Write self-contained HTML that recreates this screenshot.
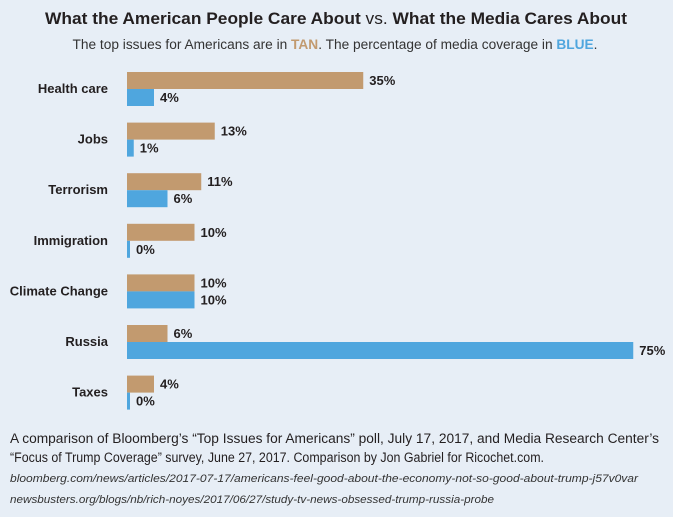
<!DOCTYPE html>
<html><head><meta charset="utf-8"><style>
html,body{margin:0;padding:0;background:#e7eef6;}
svg{display:block;font-family:"Liberation Sans",sans-serif;}
</style></head><body>
<svg id="chart" width="673" height="517" viewBox="0 0 673 517">
<rect width="673" height="517" fill="#e7eef6"/>
<text x="336" y="24" text-anchor="middle" font-size="17" font-weight="bold" fill="#231f20" textLength="582" lengthAdjust="spacingAndGlyphs">What the American People Care About <tspan font-weight="normal">vs.</tspan> What the Media Cares About</text>
<text x="335" y="49" text-anchor="middle" font-size="13.5" fill="#333" textLength="525" lengthAdjust="spacingAndGlyphs">The top issues for Americans are in <tspan fill="#c29a6f" font-weight="bold">TAN</tspan>. The percentage of media coverage in <tspan fill="#4fa6de" font-weight="bold">BLUE</tspan>.</text>
<g id="bars"></g>
<text x="10" y="443" font-size="13.5" fill="#231f20" textLength="649" lengthAdjust="spacingAndGlyphs">A comparison of Bloomberg’s “Top Issues for Americans” poll, July 17, 2017, and Media Research Center’s</text>
<text x="10" y="462" font-size="13.5" fill="#231f20" textLength="534" lengthAdjust="spacingAndGlyphs">“Focus of Trump Coverage” survey, June 27, 2017. Comparison by Jon Gabriel for Ricochet.com.</text>
<text x="10" y="482" font-size="11" font-style="italic" fill="#333" textLength="628" lengthAdjust="spacingAndGlyphs">bloomberg.com/news/articles/2017-07-17/americans-feel-good-about-the-economy-not-so-good-about-trump-j57v0var</text>
<text x="10" y="503" font-size="11" font-style="italic" fill="#333" textLength="484" lengthAdjust="spacingAndGlyphs">newsbusters.org/blogs/nb/rich-noyes/2017/06/27/study-tv-news-obsessed-trump-russia-probe</text>
</svg>
<script>
const categories = ["Health care","Jobs","Terrorism","Immigration","Climate Change","Russia","Taxes"];
const publicValues = [35,13,11,10,10,6,4];
const mediaValues = [4,1,6,0,10,75,0];
const NS="http://www.w3.org/2000/svg";
const g=document.getElementById('bars');
const x0=127, pxPer=6.75, top0=72, step=50.6, bh=17;
function xs(v){return Math.max(3, v*pxPer);}
function mk(tag,attrs){const e=document.createElementNS(NS,tag);for(const k in attrs)e.setAttribute(k,attrs[k]);g.appendChild(e);return e;}
categories.forEach((c,i)=>{
  const y=top0+i*step;
  const lab=mk('text',{x:108,y:y+bh+4,'text-anchor':'end','font-size':13,'font-weight':'bold',fill:'#231f20'});
  lab.textContent=c;
  
  
  const t=mk('rect',{x:x0,y:y,width:xs(publicValues[i]),height:bh,fill:'#c29a6f'});
  
  
  const b=mk('rect',{x:x0,y:y+bh,width:xs(mediaValues[i]),height:bh,fill:'#4fa6de'});
  
  
  const tl=mk('text',{x:x0+xs(publicValues[i])+6,y:y+13,'font-size':13,'font-weight':'bold',fill:'#231f20'});
  tl.textContent=publicValues[i]+'%';
  
  
  const bl=mk('text',{x:x0+xs(mediaValues[i])+6,y:y+bh+13,'font-size':13,'font-weight':'bold',fill:'#231f20'});
  bl.textContent=mediaValues[i]+'%';
  
  
});
</script>
</body></html>
